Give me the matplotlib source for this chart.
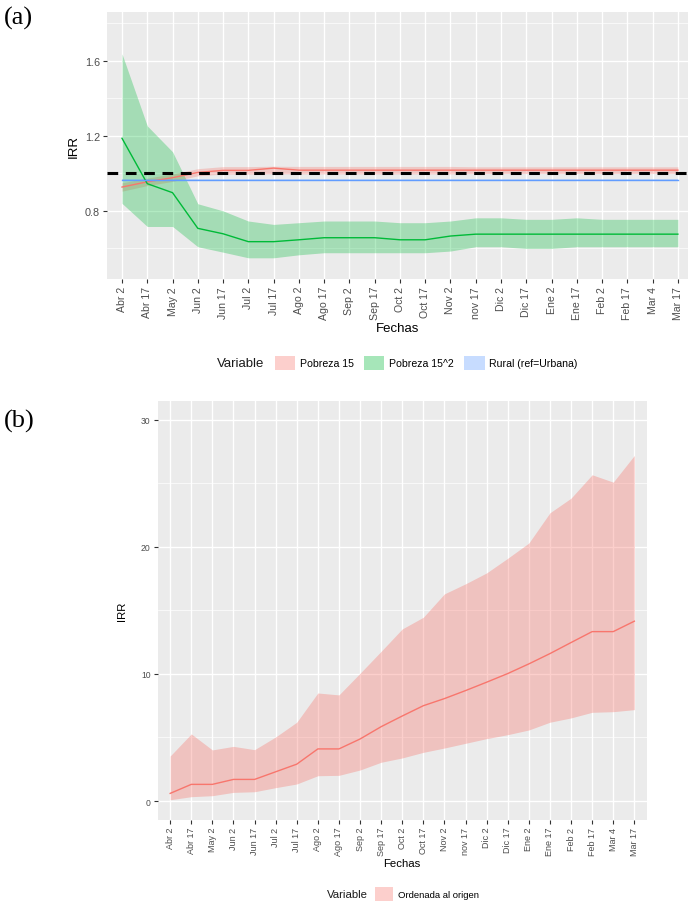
import matplotlib
matplotlib.use("Agg")
import matplotlib.pyplot as plt
from matplotlib.patches import Patch

plt.rcParams['font.family'] = ['Liberation Sans', 'DejaVu Sans']

fechas = ["Abr 2", "Abr 17", "May 2", "Jun 2", "Jun 17", "Jul 2", "Jul 17", "Ago 2",
          "Ago 17", "Sep 2", "Sep 17", "Oct 2", "Oct 17", "Nov 2", "nov 17", "Dic 2",
          "Dic 17", "Ene 2", "Ene 17", "Feb 2", "Feb 17", "Mar 4", "Mar 17"]

# Panel (a)
pob15 = [0.927, 0.955, 0.977, 1.005, 1.016, 1.016, 1.028, 1.017, 1.017, 1.017, 1.017, 1.017,
         1.017, 1.017, 1.017, 1.017, 1.017, 1.017, 1.017, 1.017, 1.017, 1.017, 1.017]
pob15_lo = [0.905, 0.935, 0.957, 0.987, 0.996, 0.996, 0.998, 0.997, 0.997, 0.997, 0.997, 0.997,
            0.997, 0.997, 0.999, 0.999, 0.999, 0.999, 0.999, 0.999, 0.999, 0.999, 0.999]
pob15_hi = [0.950, 0.975, 0.997, 1.025, 1.036, 1.036, 1.038, 1.037, 1.037, 1.037, 1.037, 1.037,
            1.037, 1.037, 1.035, 1.035, 1.035, 1.035, 1.035, 1.035, 1.035, 1.035, 1.035]

pob15sq = [1.187, 0.945, 0.897, 0.707, 0.678, 0.636, 0.636, 0.646, 0.657, 0.657, 0.657, 0.646,
           0.646, 0.666, 0.676, 0.676, 0.676, 0.676, 0.676, 0.676, 0.676, 0.676, 0.676]
pob15sq_lo = [0.840, 0.717, 0.717, 0.609, 0.580, 0.550, 0.550, 0.566, 0.577, 0.577, 0.577, 0.577,
              0.577, 0.586, 0.609, 0.609, 0.600, 0.600, 0.609, 0.609, 0.609, 0.609, 0.609]
pob15sq_hi = [1.637, 1.253, 1.115, 0.838, 0.800, 0.746, 0.728, 0.737, 0.746, 0.746, 0.746, 0.737,
              0.737, 0.746, 0.763, 0.763, 0.755, 0.755, 0.763, 0.755, 0.755, 0.755, 0.755]

rural = [0.967] * 23
rural_lo = [0.964] * 23
rural_hi = [0.970] * 23

# Panel (b)
origen = [0.60, 1.31, 1.31, 1.70, 1.70, 2.30, 2.90, 4.10, 4.10, 4.88, 5.85, 6.69, 7.50, 8.06,
          8.69, 9.35, 10.03, 10.79, 11.60, 12.47, 13.33, 13.33, 14.15]
origen_lo = [0.10, 0.34, 0.42, 0.68, 0.73, 1.05, 1.34, 1.99, 2.02, 2.44, 3.05, 3.39, 3.83, 4.17,
             4.54, 4.91, 5.22, 5.59, 6.20, 6.54, 6.98, 7.03, 7.19]
origen_hi = [3.54, 5.28, 4.02, 4.30, 4.04, 5.04, 6.20, 8.50, 8.35, 10.05, 11.78, 13.54, 14.46,
             16.30, 17.09, 17.95, 19.10, 20.30, 22.68, 23.83, 25.67, 25.09, 27.19]

RED = '#F8766D'
GREEN = '#00BA38'
BLUE = '#619CFF'
PANEL = '#EBEBEB'
TXT = '#4D4D4D'

W, H = 688, 903
fig = plt.figure(figsize=(W / 100, H / 100), dpi=100)


def ax_rect(l, t, r, b):
    return [l / W, 1 - b / H, (r - l) / W, (b - t) / H]


def style(ax, xs, tick_fs):
    ax.set_facecolor(PANEL)
    for s in ax.spines.values():
        s.set_visible(False)
    ax.grid(True, which='major', color='white', lw=1.0)
    ax.grid(True, which='minor', axis='y', color='white', lw=0.5)
    ax.set_axisbelow(True)
    ax.set_xticks(xs)
    ax.set_xticklabels(fechas, rotation=90, fontsize=tick_fs, color=TXT)
    ax.tick_params(axis='both', colors='#333333', length=3, width=0.8, labelcolor=TXT, pad=2)
    ax.tick_params(axis='y', which='minor', length=0)


xs = list(range(len(fechas)))

# ---------------- Panel (a)
axa = fig.add_axes(ax_rect(107, 13, 688, 280))
style(axa, xs, 7.6)
axa.fill_between(xs, pob15_lo, pob15_hi, color=RED, alpha=0.3, lw=0)
axa.fill_between(xs, pob15sq_lo, pob15sq_hi, color=GREEN, alpha=0.3, lw=0)
axa.fill_between(xs, rural_lo, rural_hi, color=BLUE, alpha=0.3, lw=0)
axa.plot(xs, pob15, color=RED, lw=1.0)
axa.plot(xs, pob15sq, color=GREEN, lw=1.0)
axa.plot(xs, rural, color=BLUE, lw=1.0)
axa.axhline(1.0, color='black', lw=2.2, ls=(0, (3.5, 2.5)))
axa.set_xlim(-0.594, 22.4)
axa.set_ylim(0.437, 1.86)
axa.set_yticks([0.8, 1.2, 1.6])
axa.set_yticklabels(['0.8', '1.2', '1.6'], fontsize=7.8)
axa.set_yticks([0.6, 1.0, 1.4, 1.8], minor=True)
axa.set_xlabel('Fechas', fontsize=9.5, labelpad=2)
axa.set_ylabel('IRR', fontsize=9.5, labelpad=4)

handles_a = [Patch(facecolor=RED, alpha=0.35, edgecolor='none'),
             Patch(facecolor=GREEN, alpha=0.35, edgecolor='none'),
             Patch(facecolor=BLUE, alpha=0.35, edgecolor='none')]
fig.legend(handles_a, ['Pobreza 15', 'Pobreza 15^2', 'Rural (ref=Urbana)'],
           loc='center left', bbox_to_anchor=(275 / W, 1 - 364 / H), ncol=3,
           frameon=False, fontsize=7.6, borderpad=0, borderaxespad=0,
           handlelength=1.9, handleheight=1.6, handletextpad=0.45, columnspacing=1.0)
fig.text(217 / W, 1 - 364 / H, 'Variable', fontsize=9.5, color='#1A1A1A',
         ha='left', va='center')

# ---------------- Panel (b)
axb = fig.add_axes(ax_rect(157.5, 401.7, 647, 820.7))
style(axb, xs, 6.5)
axb.fill_between(xs, origen_lo, origen_hi, color=RED, alpha=0.35, lw=0)
axb.plot(xs, origen, color=RED, lw=1.0)
axb.set_xlim(-0.6, 22.6)
axb.set_ylim(-1.47, 31.5)
axb.set_yticks([0, 10, 20, 30])
axb.set_yticklabels(['0', '10', '20', '30'], fontsize=6.2)
axb.set_yticks([5, 15, 25], minor=True)
axb.set_xlabel('Fechas', fontsize=8.2, labelpad=2)
axb.set_ylabel('IRR', fontsize=8.2, labelpad=10)

fig.legend([Patch(facecolor=RED, alpha=0.35, edgecolor='none')], ['Ordenada al origen'],
           loc='center left', bbox_to_anchor=(375 / W, 1 - 895 / H), ncol=1,
           frameon=False, fontsize=6.8, borderpad=0, borderaxespad=0,
           handlelength=1.9, handleheight=1.8, handletextpad=0.5)
fig.text(327 / W, 1 - 895 / H, 'Variable', fontsize=8.2, color='#1A1A1A',
         ha='left', va='center')

# Panel letters
serif = ['Liberation Serif', 'DejaVu Serif']
fig.text(4 / W, 1 - 18 / H, '(a)', fontsize=19, family=serif, va='center', ha='left')
fig.text(4 / W, 1 - 421 / H, '(b)', fontsize=19, family=serif, va='center', ha='left')

fig.savefig('out.png', dpi=100)
